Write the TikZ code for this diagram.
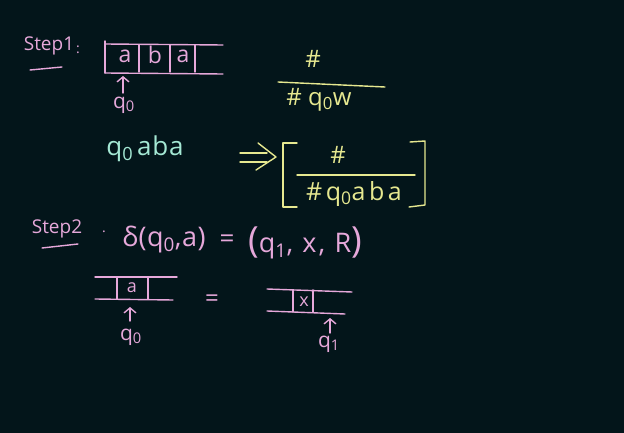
\documentclass[tikz,border=0pt]{standalone}
\usepackage{fontspec}
\setmainfont{Open Sans}
\usetikzlibrary{arrows.meta}
\definecolor{bg}{HTML}{03151A}
\definecolor{pk}{HTML}{E6A8DA}
\definecolor{yl}{HTML}{E6E890}
\definecolor{cy}{HTML}{A4E8D4}
\newcommand\fs[1]{\fontsize{#1}{#1}\selectfont}
\newcommand\spaced[1]{\addfontfeatures{LetterSpace=#1}}
\begin{document}
\begin{tikzpicture}[x=1pt,y=-1pt,
  chalk/.style={line width=1.4pt, line cap=round, line join=round},
  up/.style={chalk, -{Straight Barb[length=5pt,width=12pt]}},
  txt/.style={inner sep=0pt, anchor=center}]
\fill[bg] (0,0) rectangle (624,433);
\useasboundingbox (0,0) rectangle (624,433);

% ---------- Step 1 ----------
\node[txt, pk, font=\fs{19}] (s1) at (49,46) {Step1};
\node[txt, pk, font=\fs{14}] (s1c) at (78,50) {:};
\coordinate (u1a) at (30,70); \coordinate (u1b) at (62,67);
\draw[chalk, pk] (u1a) -- (u1b);

% tape 1
\coordinate (t1tl) at (105,44); \coordinate (t1tr) at (223,45);
\coordinate (t1bl) at (105,73); \coordinate (t1br) at (223,74);
\coordinate (t1l) at (105,41);
\draw[chalk, pk] (t1tl) -- (t1tr);
\draw[chalk, pk] (t1bl) -- (t1br);
\draw[chalk, pk] (t1l) -- (t1bl);
\foreach \x/\n in {139/d1,170/d2,195/d3}{
  \coordinate (\n t) at (\x,45); \coordinate (\n b) at (\x,72);
  \draw[chalk, pk] (\n t) -- (\n b);}
\node[txt, pk, font=\fs{23}] (c1) at (125,56) {a};
\node[txt, pk, font=\fs{23}] (c2) at (155,55) {b};
\node[txt, pk, font=\fs{23}] (c3) at (183,56) {a};
\node[txt, pk, font=\fs{21}] (q0a) at (124,105) {q\textsubscript{0}};
\coordinate (h1) at (123,76);
\draw[up, pk] (123,93) -- (h1);

% # over # q0 w
\node[txt, yl, font=\fs{24}] (hs1) at (313,59) {\#};
\coordinate (f1a) at (278,82); \coordinate (f1b) at (385,87);
\draw[chalk, yl] (f1a) -- (f1b);
\node[txt, yl, font=\fs{24}] (hs2) at (319,100) {\# q\textsubscript{0}w};

% q0 aba
\node[txt, cy, font={\fs{26}\spaced{3}}] (qaba) at (145,149) {q\textsubscript{0}\kern4pt aba};

% implies (drawn)
\coordinate (i1) at (240,153); \coordinate (i2) at (267,153);
\coordinate (i3) at (240,162); \coordinate (i4) at (267,162);
\coordinate (i5) at (258,143); \coordinate (i6) at (276,157); \coordinate (i7) at (256,170);
\draw[chalk, yl] (i1) -- (i2);
\draw[chalk, yl] (i3) -- (i4);
\draw[chalk, yl] (i5) -- (i6) -- (i7);

% bracket
\coordinate (bl1) at (297,143); \coordinate (bl2) at (283,143);
\coordinate (bl3) at (283,207); \coordinate (bl4) at (297,207);
\draw[chalk, yl] (bl1) -- (bl2) -- (bl3) -- (bl4);
\coordinate (br1) at (410,142); \coordinate (br2) at (425,141);
\coordinate (br3) at (425,205); \coordinate (br4) at (409,207);
\draw[chalk, yl] (br1) -- (br2) -- (br3) -- (br4);
\node[txt, yl, font=\fs{24}] (hs3) at (338,155) {\#};
\coordinate (f2a) at (297,175); \coordinate (f2b) at (415,175);
\draw[chalk, yl] (f2a) -- (f2b);
\node[txt, yl, font={\fs{25}\spaced{14}}] (hs4) at (354,194) {\#q\textsubscript{0}aba};

% ---------- Step 2 ----------
\node[txt, pk, font=\fs{19}] (s2) at (57,229) {Step2};
\node[txt, pk, font=\fs{14}] (s2c) at (104,232) {.};
\coordinate (u2a) at (42,248); \coordinate (u2b) at (78,244);
\draw[chalk, pk] (u2a) -- (u2b);

\node[txt, pk, font={\fs{27}\spaced{2}}] (delta) at (164,239) {δ(q\textsubscript{0},a)};
\node[txt, pk, font=\fs{26}] (eq1) at (227,241) {=};
\node[txt, pk, font={\fs{27}\spaced{8}}] (res) at (305,243) {\fs{36}(\fs{27}q\textsubscript{1}, x, R\fs{36})};

% tape 2 left
\coordinate (t2tl) at (95,277); \coordinate (t2tr) at (177,277);
\coordinate (t2bl) at (95,299); \coordinate (t2br) at (173,300);
\draw[chalk, pk] (t2tl) -- (t2tr);
\draw[chalk, pk] (t2bl) -- (t2br);
\foreach \x/\n in {117/e1,148/e2}{
  \coordinate (\n t) at (\x,277); \coordinate (\n b) at (\x,299);
  \draw[chalk, pk] (\n t) -- (\n b);}
\node[txt, pk, font=\fs{18}] (ca) at (132,288) {a};
\coordinate (h2) at (130,307);
\draw[up, pk] (130,321) -- (h2);
\node[txt, pk, font=\fs{21}] (q0b) at (131,337) {q\textsubscript{0}};

\node[txt, pk, font=\fs{24}] (eq2) at (212,301) {=};

% tape 2 right
\coordinate (t3tl) at (267,289); \coordinate (t3tr) at (352,292);
\coordinate (t3bl) at (267,311); \coordinate (t3br) at (345,314);
\draw[chalk, pk] (t3tl) -- (t3tr);
\draw[chalk, pk] (t3bl) -- (t3br);
\foreach \x/\n in {293/g1,313/g2}{
  \coordinate (\n t) at (\x,290); \coordinate (\n b) at (\x,312);
  \draw[chalk, pk] (\n t) -- (\n b);}
\node[txt, pk, font=\fs{18}] (cx) at (304,302) {x};
\coordinate (h3) at (330,318);
\draw[up, pk] (330,333) -- (h3);
\node[txt, pk, font=\fs{21}] (q1) at (329,344) {q\textsubscript{1}};
\end{tikzpicture}
\end{document}
